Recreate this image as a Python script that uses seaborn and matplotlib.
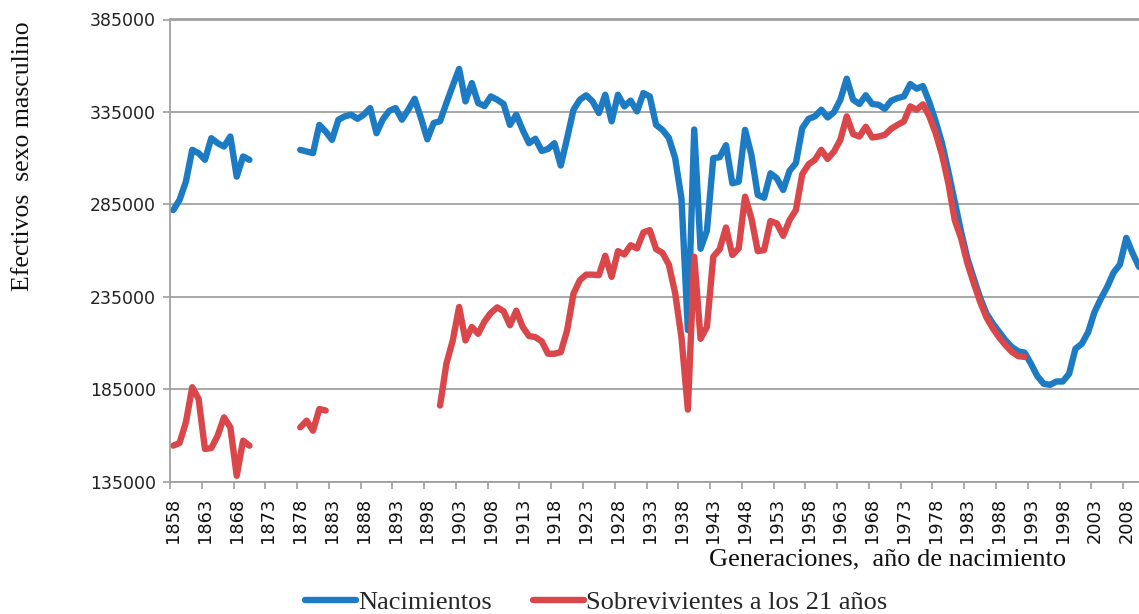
import numpy as np
import pandas as pd
import matplotlib
matplotlib.use("Agg")
import matplotlib.pyplot as plt
import seaborn as sns

# ---------------- data ----------------
series_names = ["Nacimientos", "Sobrevivientes a los 21 años"]

# Nacimientos (births), contiguous segments
births_seg1_start = 1858
births_seg1 = [281900, 287400, 297300, 314500, 312700, 309100, 320800, 318100,
               316300, 321700, 300000, 310900, 309100]                      # 1858-1870
births_seg2_start = 1878
births_seg2 = [314500, 313600, 312700, 328000, 324400, 319900, 330800, 332600,   # 1878-1885
               333500, 331300, 333500, 337100, 323500, 331000, 335600, 337100,   # 1886-1893
               330800, 336200, 342100, 331700, 320200, 329000, 330000, 339800,   # 1894-1901
               349200, 358300, 340700, 350600, 339800, 338200, 343400, 341600,   # 1902-1909
               339300, 328000, 333500, 325300, 318100, 320500, 313900, 315000,   # 1910-1917
               318100, 306000, 320800, 336200, 341600, 344000, 340700, 334400,   # 1918-1925
               344300, 329900, 344300, 338000, 341100, 335300, 345200, 343400,   # 1926-1933
               328000, 325300, 321000, 310000, 288000, 217000, 325500, 261000,   # 1934-1941
               270800, 310000, 310500, 317000, 296400, 297300, 325300, 311800,   # 1942-1949
               290100, 288600, 301800, 299100, 292800, 303100, 307300, 326200,   # 1950-1957
               331300, 332600, 336200, 332000, 334900, 341600, 353000, 341600,   # 1958-1965
               339300, 344000, 339300, 338900, 336700, 341100, 342500, 343400,   # 1966-1973
               350100, 347600, 349000, 340300, 329900, 318100, 302700, 286500,   # 1974-1981
               270200, 255700, 244900, 234400, 225900, 220500, 215900, 211400,   # 1982-1989
               207800, 205500, 204800, 198800, 192100, 188000, 187400, 189200,   # 1990-1997
               189200, 193400, 206900, 209600, 215900, 226800, 234000, 240400,   # 1998-2005
               248100, 252500, 266900, 258500, 251200]                           # 2006-2010

# Sobrevivientes a los 21 años (survivors at age 21), contiguous segments
surv_seg1_start = 1858
surv_seg1 = [154500, 155900, 167100, 186100, 179800, 152700, 153200, 159900,
             169800, 164400, 138200, 157200, 154500]                          # 1858-1870
surv_seg2_start = 1878
surv_seg2 = [164400, 168000, 162600, 174300, 173500]                          # 1878-1882
surv_seg3_start = 1900
surv_seg3 = [176200, 198800, 211400, 229500, 211400, 218700, 215000, 221700,   # 1900-1907
             226300, 229300, 227200, 219600, 227500, 218700, 213800, 213200,   # 1908-1915
             210900, 204200, 204200, 205100, 216900, 236700, 244000, 247000,   # 1916-1923
             247000, 246700, 257200, 245800, 259700, 257900, 262900, 261200,   # 1924-1931
             269800, 271100, 260800, 258800, 252500, 237000, 212800, 174000,   # 1932-1939
             256700, 212300, 218700, 256700, 260700, 272500, 257600, 261200,   # 1940-1947
             289200, 277500, 259700, 260300, 276000, 274700, 268000, 276500,   # 1948-1955
             281900, 301300, 306700, 309100, 314500, 309600, 313600, 319900,   # 1956-1963
             332600, 323000, 321700, 327000, 321200, 321700, 322600, 325900,   # 1964-1971
             328000, 329900, 338000, 336200, 339100, 332600, 323500, 311800,   # 1972-1979
             296400, 276500, 266700, 253100, 242300, 232300, 223800, 217900,   # 1980-1987
             213000, 208800, 205200, 202900, 202500]                           # 1988-1992

y_ticks = [135000, 185000, 235000, 285000, 335000, 385000]
x_tick_years = list(range(1858, 2009, 5))

# ---------------- long table for seaborn ----------------
rows = []
def add(name, start, vals, seg_id):
    for i, v in enumerate(vals):
        rows.append({"serie": name, "year": start + i, "value": v, "seg": seg_id})

add(series_names[0], births_seg1_start, births_seg1, "b1")
add(series_names[0], births_seg2_start, births_seg2, "b2")
add(series_names[1], surv_seg1_start, surv_seg1, "s1")
add(series_names[1], surv_seg2_start, surv_seg2, "s2")
add(series_names[1], surv_seg3_start, surv_seg3, "s3")
df = pd.DataFrame(rows)

# ---------------- figure ----------------
sns.set_theme(style="white")
plt.rcParams["font.family"] = ["DejaVu Sans"]

W, H = 1139, 614
fig = plt.figure(figsize=(W / 100, H / 100), dpi=100)
ax = fig.add_axes([170 / W, 1 - 481.7 / H, (W - 170) / W, (481.7 - 19.5) / H])

blue = "#1C7BC2"
red = "#D9474A"
sns.lineplot(data=df, x="year", y="value", hue="serie", hue_order=series_names,
             units="seg", estimator=None, palette=[blue, red], lw=4.6,
             solid_capstyle="round", solid_joinstyle="round", ax=ax)

ax.set_xlim(1857.5, 2010.0)
ax.set_ylim(135000, 385000)

grid_col = "#A0A0A0"
ax.set_yticks(y_ticks)
ax.set_yticklabels([str(v) for v in y_ticks])
ax.yaxis.grid(True, color=grid_col, lw=1.3)
ax.xaxis.grid(False)
ax.set_axisbelow(True)

# x: labels at category centers, tick marks at category boundaries
ax.set_xticks(x_tick_years)
ax.set_xticklabels([str(y) for y in x_tick_years], rotation=90)
ax.set_xticks([y - 0.5 for y in x_tick_years], minor=True)
ax.tick_params(axis="x", which="major", length=0, pad=11.5, labelsize=12.8, labelcolor="#111111")
ax.tick_params(axis="x", which="minor", length=5, width=1.2, color=grid_col, bottom=True)
ax.tick_params(axis="y", which="major", length=5, width=1.2, color=grid_col, left=True,
               pad=5, labelsize=12.5, labelcolor="#222222")

for s in ["left", "bottom", "top"]:
    ax.spines[s].set_visible(True)
    ax.spines[s].set_color(grid_col)
    ax.spines[s].set_linewidth(1.3)
ax.spines["right"].set_visible(False)

ax.set_xlabel("")
ax.set_ylabel("")

serif = ["Liberation Serif", "DejaVu Serif"]
fig.text(888 / W, 1 - 565 / H, "Generaciones,  año de nacimiento", family=serif,
         fontsize=19, ha="center", va="baseline", color="#111111")
fig.text(23 / W, 1 - 156 / H, "Efectivos  sexo masculino", family=serif,
         fontsize=18.5, rotation=90, ha="center", va="center", color="#111111")

sns.move_legend(ax, "center", bbox_to_anchor=(596 / W, 1 - 602 / H),
                bbox_transform=fig.transFigure, ncol=2, frameon=False, title=None,
                prop={"family": serif, "size": 19}, handlelength=1.93,
                handletextpad=0.08, columnspacing=1.55, borderpad=0, borderaxespad=0)

fig.savefig("out.png", dpi=100)
